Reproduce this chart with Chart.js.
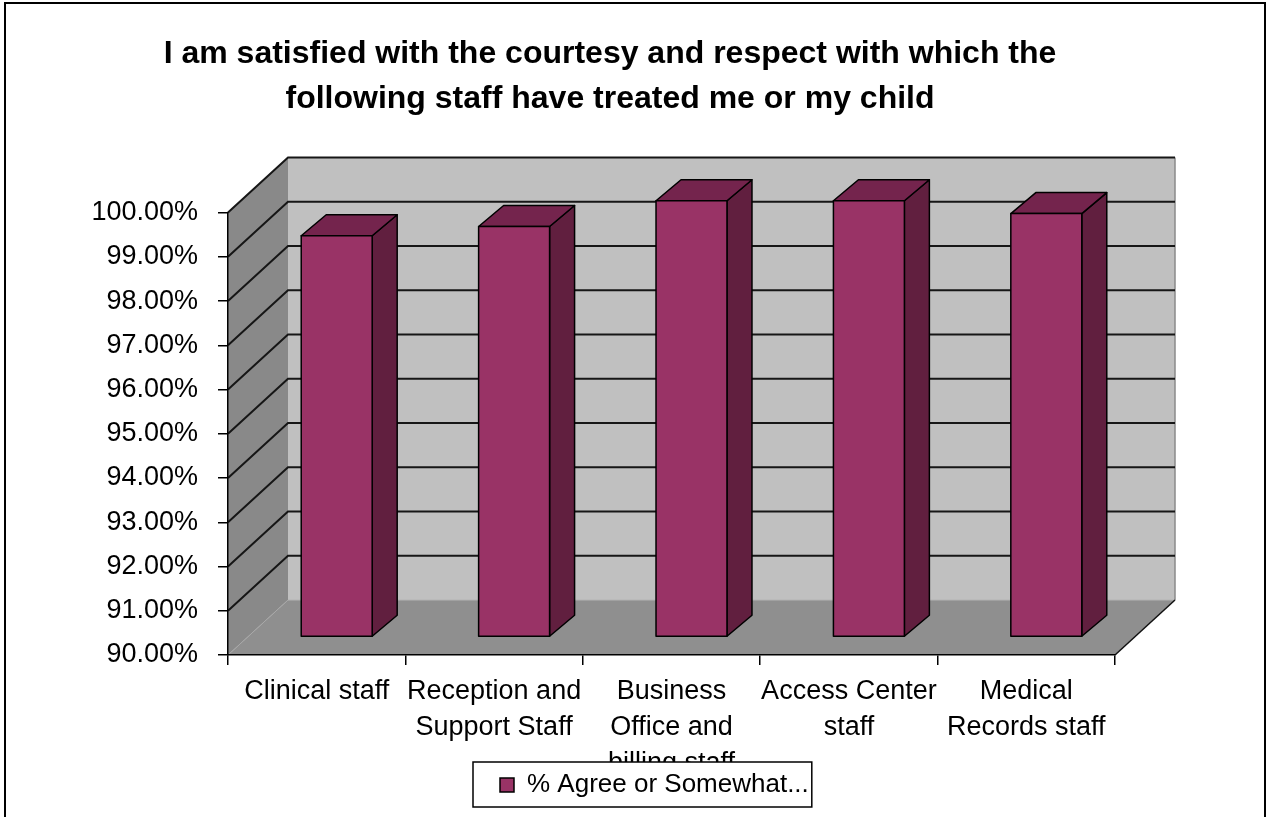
<!DOCTYPE html>
<html>
<head>
<meta charset="utf-8">
<script src="https://cdn.jsdelivr.net/npm/chart.js@4.4.1/dist/chart.umd.min.js"></script>
<style>
  html, body { margin: 0; padding: 0; background: #fff; }
</style>
</head>
<body>
<canvas id="staffChart" width="1270" height="817"></canvas>
<script>
// chart data
const titleLines = ['I am satisfied with the courtesy and respect with which the', 'following staff have treated me or my child'];
const categories = [
    ['Clinical staff'],
    ['Reception and', 'Support Staff'],
    ['Business', 'Office and', 'billing staff'],
    ['Access Center', 'staff'],
    ['Medical', 'Records staff']
];
const agreeValues = [99.07, 99.28, 99.86, 99.86, 99.57];
const seriesLabel = '% Agree or Somewhat...';
const yMin = 90;
const yMax = 100;
const yStep = 1;

const FONT = "'Liberation Sans', Arial, sans-serif";

// 3D look (Excel style): wall depth and bar depth, in pixels
const wall = { dx: 60, dy: -55 };
const barFront = { dx: 20, dy: -18 };
const barDepth = { dx: 25, dy: -21 };

function poly(ctx, pts, fill, stroke, lw) {
    ctx.beginPath();
    ctx.moveTo(pts[0][0], pts[0][1]);
    for (let i = 1; i < pts.length; i++) ctx.lineTo(pts[i][0], pts[i][1]);
    ctx.closePath();
    if (fill) { ctx.fillStyle = fill; ctx.fill(); }
    if (stroke) { ctx.strokeStyle = stroke; ctx.lineWidth = lw || 1; ctx.stroke(); }
}

function line(ctx, pts, color, lw) {
    ctx.beginPath();
    ctx.moveTo(pts[0][0], pts[0][1]);
    for (let i = 1; i < pts.length; i++) ctx.lineTo(pts[i][0], pts[i][1]);
    ctx.strokeStyle = color;
    ctx.lineWidth = lw;
    ctx.stroke();
}

const excel3d = {
    id: 'excel3d',
    afterLayout(chart) {
        // title is centred over the plot, not the canvas
        const tb = chart.titleBlock;
        if (tb) {
            const w = tb.right - tb.left;
            tb.left = 610 - w / 2;
            tb.right = tb.left + w;
        }
        // legend sits a bit right of centre and overlaps the last label line
        const lg = chart.legend;
        if (!lg || !lg.lineWidths) return;
        const p = lg.options.labels.padding;
        const curX = (lg.left + p + lg.right - lg.lineWidths[0]) / 2;
        const shift = 500 - curX;
        lg.left += shift; lg.right += shift;
        const h = lg.height;
        lg.top = 785 - p - 13;
        lg.bottom = lg.top + h;
    },
    beforeDraw(chart) {
        const { ctx, chartArea: a, scales: { y } } = chart;
        ctx.save();
        ctx.fillStyle = '#fff';
        ctx.fillRect(0, 0, chart.width, chart.height);
        const top = y.getPixelForValue(yMax), bot = y.getPixelForValue(yMin);
        const L = a.left, R = a.right;
        // back wall, left wall, floor
        ctx.fillStyle = '#c0c0c0';
        ctx.fillRect(L + wall.dx, top + wall.dy, R - L, bot - top);
        poly(ctx, [[L, bot], [L, top], [L + wall.dx, top + wall.dy], [L + wall.dx, bot + wall.dy]], '#898989');
        poly(ctx, [[L, bot], [R, bot], [R + wall.dx, bot + wall.dy], [L + wall.dx, bot + wall.dy]], '#8f8f8f');
        line(ctx, [[L + wall.dx, bot + wall.dy], [R + wall.dx, bot + wall.dy]], '#b4b4b4', 1);
        line(ctx, [[L, bot], [L + wall.dx, bot + wall.dy]], '#a8a8a8', 1);
        line(ctx, [[R + wall.dx, top + wall.dy], [R + wall.dx, bot + wall.dy]], '#8a8a8a', 1.5);
        // gridlines on the walls
        y.ticks.forEach(t => {
            if (t.value <= yMin) return;
            const yy = y.getPixelForValue(t.value);
            line(ctx, [[L, yy], [L + wall.dx, yy + wall.dy], [R + wall.dx, yy + wall.dy]], '#161616', 2);
        });
        line(ctx, [[R, bot], [R + wall.dx, bot + wall.dy]], '#111', 1.5);
        ctx.restore();
    },
    beforeDatasetDraw(chart, args) {
        const ctx = chart.ctx;
        const ds = chart.data.datasets[args.index];
        ctx.save();
        ctx.lineJoin = 'round';
        args.meta.data.forEach(bar => {
            const l = bar.x - bar.width / 2 + barFront.dx;
            const r = bar.x + bar.width / 2 + barFront.dx;
            const t = bar.y + barFront.dy;
            const b = bar.base + barFront.dy;
            const bx = barDepth.dx, by = barDepth.dy;
            poly(ctx, [[r, t], [r + bx, t + by], [r + bx, b + by], [r, b]], ds.sideColor, '#000', 1.5);
            poly(ctx, [[l, t], [l + bx, t + by], [r + bx, t + by], [r, t]], ds.topColor, '#000', 1.5);
            poly(ctx, [[l, t], [r, t], [r, b], [l, b]], ds.backgroundColor, '#000', 1.5);
        });
        ctx.restore();
        return false;
    },
    afterDraw(chart) {
        const ctx = chart.ctx;
        const lg = chart.legend;
        ctx.save();
        if (lg && lg.legendHitBoxes && lg.legendHitBoxes.length) {
            const hb = lg.legendHitBoxes[0];
            const cy = hb.top + hb.height / 2;
            const bl = hb.left - 27, br = hb.left + hb.width + 3;
            ctx.fillStyle = '#fff';
            ctx.fillRect(bl, cy - 23, br - bl, 45);
            ctx.strokeStyle = '#000';
            ctx.lineWidth = 1.5;
            ctx.strokeRect(bl, cy - 23, br - bl, 45);
            lg.draw();
        }
        // outer frame of the picture
        ctx.strokeStyle = '#000';
        ctx.lineWidth = 2;
        ctx.strokeRect(5, 3, 1260, 830);
        ctx.restore();
    }
};

const ctx = document.getElementById('staffChart').getContext('2d');
window.staffChart = new Chart(ctx, {
    type: 'bar',
    data: {
        labels: categories,
        datasets: [{
            label: seriesLabel,
            data: agreeValues,
            base: yMin,
            backgroundColor: '#993366',
            topColor: '#74244d',
            sideColor: '#611f3f',
            borderColor: '#000',
            borderWidth: 1.5,
            barPercentage: 0.4,
            categoryPercentage: 1.0
        }]
    },
    options: {
        responsive: false,
        animation: false,
        events: [],
        layout: { padding: { left: 80, right: 155, top: 0, bottom: 0 } },
        plugins: {
            title: {
                display: true,
                text: titleLines,
                color: '#000',
                font: { family: FONT, size: 32, weight: 'bold', lineHeight: 1.4 },
                padding: { top: 32, bottom: 91 }
            },
            legend: {
                display: true,
                position: 'bottom',
                labels: {
                    color: '#000',
                    font: { family: FONT, size: 26 },
                    boxWidth: 14,
                    boxHeight: 14,
                    padding: 8
                }
            },
            tooltip: { enabled: false }
        },
        scales: {
            x: {
                grid: { display: true, drawOnChartArea: false, drawTicks: true, tickLength: 10, offset: true, color: '#000', lineWidth: 1.5 },
                border: { display: true, color: '#000', width: 1.5 },
                ticks: {
                    color: '#000',
                    font: { family: FONT, size: 27, lineHeight: 1.3333 },
                    padding: 9,
                    maxRotation: 0,
                    autoSkip: false
                },
                afterFit: scale => { scale.height = 118; }
            },
            y: {
                min: yMin,
                max: yMax,
                grid: { display: true, drawOnChartArea: false, drawTicks: true, tickLength: 10, color: '#000', lineWidth: 1.5 },
                border: { display: true, color: '#000', width: 1.5 },
                ticks: {
                    stepSize: yStep,
                    color: '#000',
                    font: { family: FONT, size: 27 },
                    padding: 20,
                    callback: v => v.toFixed(2) + '%'
                },
                afterFit: scale => { scale.width = 148; }
            }
        }
    },
    plugins: [excel3d]
});
</script>
</body>
</html>
